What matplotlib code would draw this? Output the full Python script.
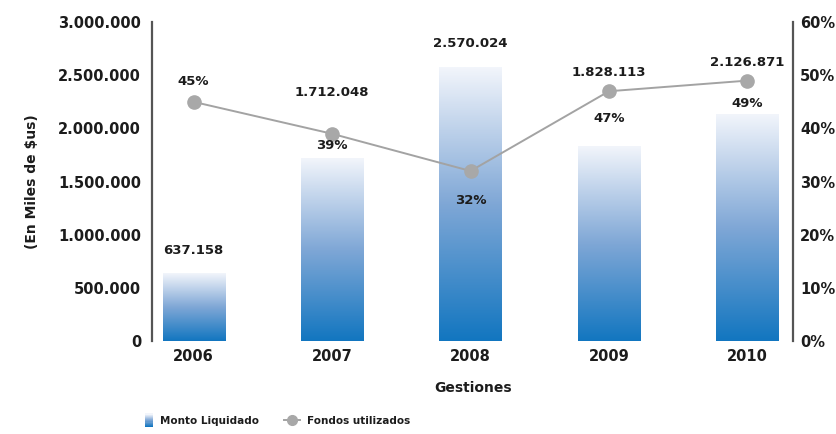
import numpy as np
import matplotlib
matplotlib.use("Agg")
import matplotlib.pyplot as plt
from matplotlib.colors import LinearSegmentedColormap
from matplotlib.patches import Rectangle
from matplotlib.lines import Line2D
from matplotlib.legend_handler import HandlerBase
from matplotlib.ticker import FuncFormatter

DPI = 100

# data
years = ["2006", "2007", "2008", "2009", "2010"]
monto = [637158, 1712048, 2570024, 1828113, 2126871]
fondos = [0.45, 0.39, 0.32, 0.47, 0.49]

# label offsets (pixels), picked to follow the reference placement
monto_off = [16, 60, 18, 68, 46]
fondos_off = [20, -12, -30, -27, -23]

TXT = "#1c1c1c"
GREY = "#a3a3a3"
cmap = LinearSegmentedColormap.from_list("bar", ["#1276c0", "#7fa7d6", "#f2f5fb"])

plt.rcParams["font.family"] = ["DejaVu Sans"]
plt.rcParams["font.weight"] = "bold"
plt.rcParams["axes.labelweight"] = "bold"


def thousands(v, pos=None):
    return f"{int(round(v)):,}".replace(",", ".")


class GradientHandler(HandlerBase):
    # thin vertical gradient swatch like the original legend
    def create_artists(self, legend, orig, xd, yd, w, h, fs, trans):
        arts = []
        n = 12
        bw = 6
        hh = h * 1.9
        for i in range(n):
            r = Rectangle((xd + w - bw, yd - 0.45 * h + hh * i / n), bw, hh / n + 0.3,
                          facecolor=cmap(i / (n - 1)), edgecolor="none", transform=trans)
            arts.append(r)
        return arts


fig = plt.figure(figsize=(836 / DPI, 434 / DPI), dpi=DPI)
ax = fig.add_axes([0.182, 0.214, 0.7666, 0.735])
ax2 = ax.twinx()

x = np.arange(len(years))
bars = ax.bar(x, monto, width=0.45, color="none", edgecolor="none", zorder=1)
grad = np.linspace(0, 1, 256).reshape(-1, 1)
for b in bars:
    x0, y0 = b.get_x(), b.get_y()
    ax.imshow(grad, cmap=cmap, origin="lower", aspect="auto",
              extent=(x0, x0 + b.get_width(), y0, y0 + b.get_height()), zorder=1)

ax.set_xlim(-0.3, 4.33)
ax.set_ylim(0, 3000000)
ax.set_yticks(np.arange(0, 3000001, 500000))
ax.yaxis.set_major_formatter(FuncFormatter(thousands))
ax.set_xticks(x)
ax.set_xticklabels(years)
ax.tick_params(axis="both", length=0, labelsize=10.5, colors=TXT)
ax.tick_params(axis="x", pad=6)
ax.tick_params(axis="y", pad=8)
for s in ["top", "right", "bottom"]:
    ax.spines[s].set_visible(False)
ax.spines["left"].set_color("#555555")
ax.spines["left"].set_linewidth(1.6)
ax.set_xlabel("Gestiones", fontsize=10, color=TXT, labelpad=12)
ax.set_ylabel("(En Miles de $us)", fontsize=10, color=TXT, labelpad=14)

ax2.plot(x, fondos, color=GREY, lw=1.4, marker="o", ms=9.5, mfc="#a8a8a8", mec="#a8a8a8", zorder=3)
ax2.set_ylim(0, 0.6)
ax2.set_yticks(np.arange(0, 0.61, 0.1))
ax2.yaxis.set_major_formatter(FuncFormatter(lambda v, p: f"{v * 100:.0f}%"))
ax2.tick_params(axis="y", length=0, labelsize=10.5, colors=TXT, pad=5)
for s in ["top", "left", "bottom"]:
    ax2.spines[s].set_visible(False)
ax2.spines["right"].set_color("#555555")
ax2.spines["right"].set_linewidth(1.6)

for i, v in enumerate(monto):
    ax.annotate(thousands(v), (x[i], v), xytext=(0, monto_off[i]), textcoords="offset pixels",
                ha="center", va="bottom", fontsize=9.5, color=TXT, zorder=5)

for i, p in enumerate(fondos):
    ax2.annotate(f"{p * 100:.0f}%", (x[i], p), xytext=(0, fondos_off[i]), textcoords="offset pixels",
                 ha="center", va="center", fontsize=9.5, color=TXT, zorder=5)

handles = [Rectangle((0, 0), 1, 1),
           Line2D([], [], color=GREY, lw=1.4, marker="o", ms=7, mfc="#a8a8a8", mec="#a8a8a8")]
fig.legend(handles, ["Monto Liquidado", "Fondos utilizados"], loc="center",
           bbox_to_anchor=(0.327, 0.03), ncol=2, frameon=False, fontsize=7.5,
           handler_map={Rectangle: GradientHandler()}, handlelength=1.6, handletextpad=0.6,
           columnspacing=2.4, labelcolor=TXT)

fig.savefig("out.png", dpi=DPI)
